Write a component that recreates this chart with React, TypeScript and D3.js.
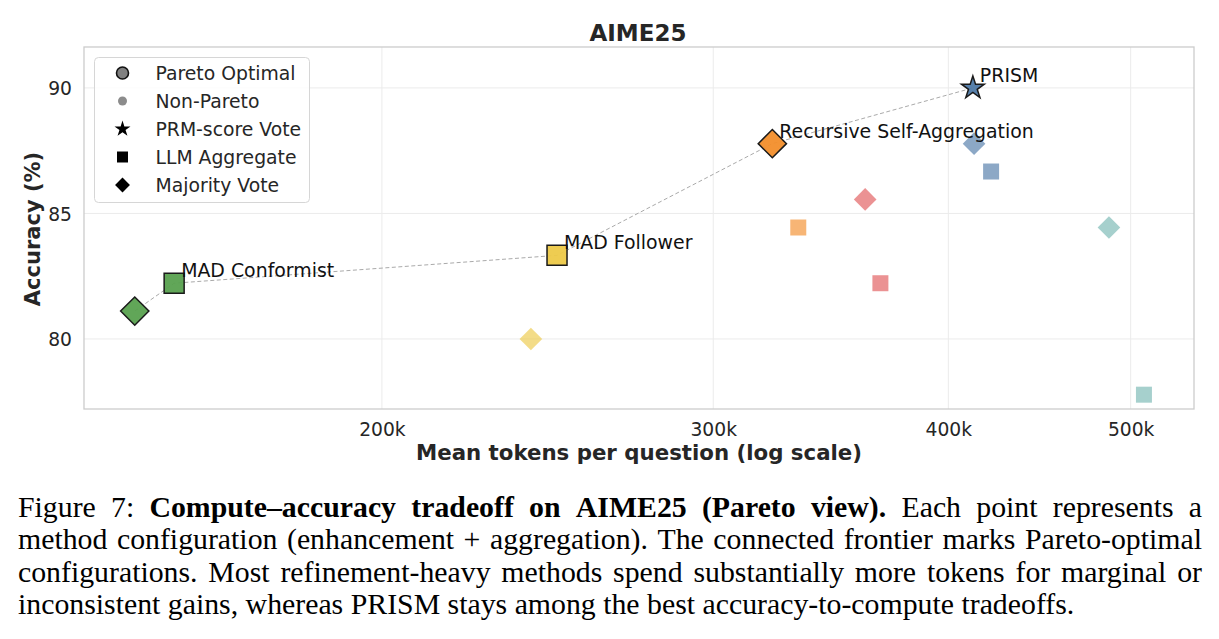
import React, { useEffect, useRef } from 'react';
import * as d3 from 'd3';

// Methods (colour per method) and the points measured for each configuration
const methodNames = ['MAD Conformist', 'MAD Follower', 'Recursive Self-Aggregation', 'Method D', 'PRISM', 'Method F'];
const methodColors = ['#59a14f', '#edc948', '#f28e2b', '#e15759', '#4e79a7', '#76b7b2'];

const pointMethod = [0, 0, 1, 1, 2, 2, 3, 3, 4, 4, 4, 5, 5];
const pointAgg = ['Majority Vote', 'LLM Aggregate', 'LLM Aggregate', 'Majority Vote', 'Majority Vote', 'LLM Aggregate',
  'Majority Vote', 'LLM Aggregate', 'PRM-score Vote', 'Majority Vote', 'LLM Aggregate', 'Majority Vote', 'LLM Aggregate'];
// mean tokens per question, in thousands
const pointTokens = [147.8, 155.1, 247.8, 240.0, 322.5, 332.9, 361.3, 368.1, 412.2, 412.8, 421.5, 486.9, 508.2];
const pointAccuracy = [81.11, 82.22, 83.33, 80.0, 87.78, 84.44, 85.56, 82.22, 90.0, 87.78, 86.67, 84.44, 77.78];
const pointPareto = [true, true, true, false, true, false, false, false, true, false, false, false, false];
const pointLabel = ['', 'MAD Conformist', 'MAD Follower', '', 'Recursive Self-Aggregation', '', '', '', 'PRISM', '', '', '', ''];

const xTicks = [200, 300, 400, 500];
const yTicks = [80, 85, 90];

const legendItems = ['Pareto Optimal', 'Non-Pareto', 'PRM-score Vote', 'LLM Aggregate', 'Majority Vote'];

const captionLines = [
  [{ t: 'Figure 7:', b: false }, { t: 'Compute–accuracy tradeoff on AIME25 (Pareto view).', b: true }, { t: 'Each point represents a', b: false }],
  [{ t: 'method configuration (enhancement + aggregation). The connected frontier marks Pareto-optimal', b: false }],
  [{ t: 'configurations. Most refinement-heavy methods spend substantially more tokens for marginal or', b: false }],
  [{ t: 'inconsistent gains, whereas PRISM stays among the best accuracy-to-compute tradeoffs.', b: false }],
];

const SANS = '"DejaVu Sans", sans-serif';
const SERIF = '"Liberation Serif", "Times New Roman", serif';
const INK = '#262626';

function markerPath(shape: string, s: number) {
  if (shape === 'LLM Aggregate') {
    const h = s / 2;
    return `M${-h},${-h}H${h}V${h}H${-h}Z`;
  }
  if (shape === 'Majority Vote') {
    const h = (s / 2) * Math.SQRT2;
    return `M0,${-h}L${h},0L0,${h}L${-h},0Z`;
  }
  if (shape === 'PRM-score Vote') {
    const R = s * 0.6, r = R * 0.381966;
    const pts = d3.range(10).map(i => {
      const a = -Math.PI / 2 + (i * Math.PI) / 5;
      const rad = i % 2 === 0 ? R : r;
      return [rad * Math.cos(a), rad * Math.sin(a)];
    });
    return 'M' + pts.map(p => p.join(',')).join('L') + 'Z';
  }
  const r = s / 2;
  return `M${r},0A${r},${r} 0 1,1 ${-r},0A${r},${r} 0 1,1 ${r},0Z`;
}

export default function App() {
  const ref = useRef<SVGSVGElement>(null);

  useEffect(() => {
    const svg = d3.select(ref.current);
    svg.selectAll('*').remove();

    const left = 84, right = 1194, top = 47, bottom = 409;
    const x = d3.scaleLog().domain([138.9, 540.3]).range([left, right]);
    const y = d3.scaleLinear().domain([77.21, 91.63]).range([bottom, top]);

    svg.append('rect').attr('width', 1219).attr('height', 639).attr('fill', '#fff');

    // grid
    const grid = svg.append('g').attr('stroke', '#ebebeb').attr('stroke-width', 1);
    grid.selectAll('.gx').data(xTicks).enter().append('line')
      .attr('x1', d => x(d)).attr('x2', d => x(d)).attr('y1', top).attr('y2', bottom);
    grid.selectAll('.gy').data(yTicks).enter().append('line')
      .attr('x1', left).attr('x2', right).attr('y1', d => y(d)).attr('y2', d => y(d));

    svg.append('rect')
      .attr('x', left).attr('y', top).attr('width', right - left).attr('height', bottom - top)
      .attr('fill', 'none').attr('stroke', '#cccccc').attr('stroke-width', 1.3);

    // axes
    const xAxis = svg.append('g').attr('transform', `translate(0,${bottom})`)
      .call(d3.axisBottom(x).tickValues(xTicks).tickFormat(d => `${d}k`).tickSize(0).tickPadding(0));
    xAxis.select('.domain').remove();
    xAxis.selectAll('text').attr('dy', null).attr('y', 27)
      .attr('font-family', SANS).attr('font-size', 18.7).attr('fill', INK);

    const yAxis = svg.append('g').attr('transform', `translate(${left},0)`)
      .call(d3.axisLeft(y).tickValues(yTicks).tickFormat(d => `${d}`).tickSize(0).tickPadding(12));
    yAxis.select('.domain').remove();
    yAxis.selectAll('text').attr('dy', '0.36em')
      .attr('font-family', SANS).attr('font-size', 18.7).attr('fill', INK);

    svg.append('text').attr('x', 639).attr('y', 460)
      .attr('text-anchor', 'middle').attr('font-family', SANS).attr('font-weight', 'bold')
      .attr('font-size', 21.3).attr('fill', INK).text('Mean tokens per question (log scale)');

    svg.append('text').attr('transform', 'translate(40,229) rotate(-90)')
      .attr('text-anchor', 'middle').attr('font-family', SANS).attr('font-weight', 'bold')
      .attr('font-size', 21).attr('fill', INK).text('Accuracy (%)');

    svg.append('text').attr('x', 638).attr('y', 41)
      .attr('text-anchor', 'middle').attr('font-family', SANS).attr('font-weight', 'bold')
      .attr('font-size', 23).attr('fill', INK).text('AIME25');

    const idx = d3.range(pointTokens.length);

    // non-Pareto configurations
    svg.append('g').selectAll('path').data(idx.filter(i => !pointPareto[i])).enter().append('path')
      .attr('transform', i => `translate(${x(pointTokens[i])},${y(pointAccuracy[i])})`)
      .attr('d', i => markerPath(pointAgg[i], 16))
      .attr('fill', i => methodColors[pointMethod[i]])
      .attr('fill-opacity', 0.65);

    // Pareto frontier
    const front = idx.filter(i => pointPareto[i]).sort((a, b) => pointTokens[a] - pointTokens[b]);
    svg.append('path')
      .attr('d', d3.line<number>().x(i => x(pointTokens[i])).y(i => y(pointAccuracy[i]))(front))
      .attr('fill', 'none').attr('stroke', '#aaaaaa').attr('stroke-width', 1)
      .attr('stroke-dasharray', '4,2.5');

    svg.append('g').selectAll('path').data(front).enter().append('path')
      .attr('transform', i => `translate(${x(pointTokens[i])},${y(pointAccuracy[i])})`)
      .attr('d', i => markerPath(pointAgg[i], 20))
      .attr('fill', i => methodColors[pointMethod[i]])
      .attr('fill-opacity', 0.95)
      .attr('stroke', '#1a1a1a').attr('stroke-width', 1.5);

    svg.append('g').selectAll('text').data(front.filter(i => pointLabel[i])).enter().append('text')
      .attr('x', i => x(pointTokens[i]) + 7).attr('y', i => y(pointAccuracy[i]) - 6)
      .attr('font-family', SANS).attr('font-size', 18.9).attr('fill', '#111')
      .text(i => pointLabel[i]);

    // legend
    const lg = svg.append('g');
    lg.append('rect').attr('x', 94.5).attr('y', 57.5).attr('width', 215).attr('height', 145)
      .attr('rx', 4).attr('fill', '#fff').attr('fill-opacity', 0.8)
      .attr('stroke', '#d6d6d6').attr('stroke-width', 1);
    legendItems.forEach((name, k) => {
      const cy = 73 + k * 28;
      const row = lg.append('g').attr('transform', `translate(122.5,${cy})`);
      if (k === 0) {
        row.append('path').attr('d', markerPath('circle', 12)).attr('fill', '#808080')
          .attr('stroke', '#111').attr('stroke-width', 1.6);
      } else if (k === 1) {
        row.append('path').attr('d', markerPath('circle', 9)).attr('fill', '#8c8c8c');
      } else {
        const sz = name === 'PRM-score Vote' ? 14 : name === 'LLM Aggregate' ? 11 : 10.5;
        row.append('path').attr('d', markerPath(name, sz)).attr('fill', '#000');
      }
      lg.append('text').attr('x', 155.5).attr('y', cy).attr('dy', '0.36em')
        .attr('font-family', SANS).attr('font-size', 18.8).attr('fill', INK).text(name);
    });

    // caption, justified between the margins
    const cap = svg.append('g').attr('font-family', SERIF).attr('font-size', 29.8).attr('fill', '#000');
    const capLeft = 18, capRight = 1202;
    captionLines.forEach((segs, li) => {
      const words: { t: string; b: boolean }[] = [];
      segs.forEach(s => s.t.split(' ').forEach(w => words.push({ t: w, b: s.b })));
      const nodes = words.map(w => cap.append('text')
        .attr('y', 517 + li * 32.4)
        .attr('font-weight', w.b ? 'bold' : 'normal')
        .text(w.t));
      const widths = nodes.map(n => (n.node() as SVGTextElement).getComputedTextLength());
      const total = d3.sum(widths);
      const last = li === captionLines.length - 1;
      const gap = last ? 7.45 : (capRight - capLeft - total) / (words.length - 1);
      let cx = capLeft;
      nodes.forEach((n, k) => {
        n.attr('x', cx);
        cx += widths[k] + gap;
      });
    });
  }, []);

  return (
    <svg ref={ref} width={1219} height={639}
      style={{ position: 'absolute', left: 0, top: 0, display: 'block' }} />
  );
}
